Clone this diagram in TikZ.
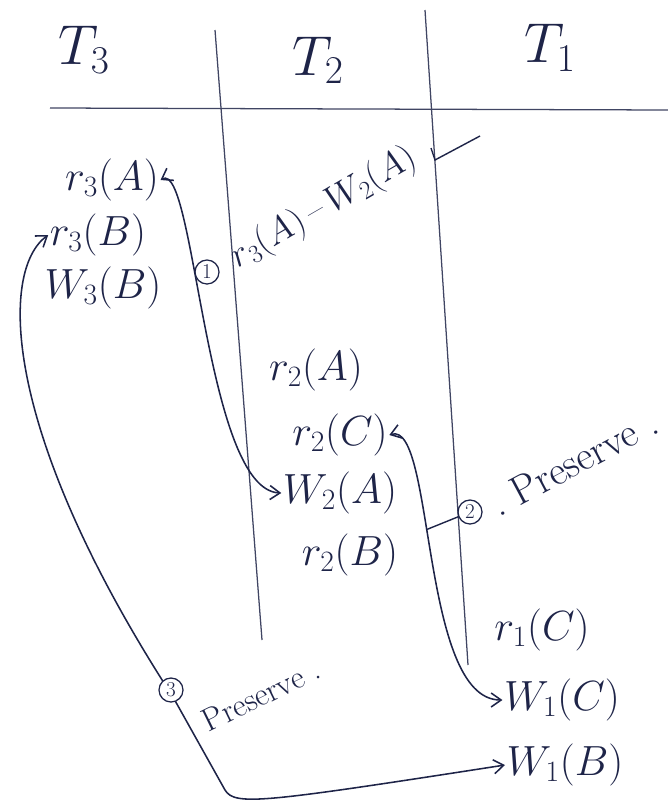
\RequirePackage{fix-cm}
\documentclass[tikz,border=0pt]{standalone}
\usepackage{amsmath}
\usepackage{xcolor}
\usetikzlibrary{arrows.meta}
\definecolor{ink}{RGB}{30, 36, 72}

\begin{document}
\begin{tikzpicture}[
  x=0.025cm, y=-0.025cm,
  every node/.style={text=ink, font=\fontsize{30}{34}\selectfont},
  head/.style={font=\fontsize{40}{46}\selectfont},
  op/.style={inner sep=1pt},
  note/.style={font=\fontsize{22}{26}\selectfont, inner sep=1pt},
  num/.style={draw=ink, circle, line width=0.9pt, inner sep=0pt, minimum size=0.6cm, font=\fontsize{15}{17}\selectfont},
  rule/.style={draw=ink!85, line width=0.9pt},
  arrow/.style={{Straight Barb[length=2.5mm, width=3.5mm]}-{Straight Barb[length=2.5mm, width=3.5mm]}, line width=1.1pt, draw=ink}
]
\useasboundingbox (0,0) rectangle (668,809);

  % Kopfzeile mit den Transaktionen
  \node[head] (t3) at (84,50) {$T_3$};
  \node[head] (t2) at (318,60) {$T_2$};
  \node[head] (t1) at (550,48) {$T_1$};

  \coordinate (hl) at (50,108);
  \coordinate (hr) at (668,110);
  \coordinate (l1top) at (215,30);
  \coordinate (l1bot) at (262,640);
  \coordinate (l2top) at (425,10);
  \coordinate (l2bot) at (468,665);
  \draw[rule] (hl) -- (hr);
  \draw[rule] (l1top) -- (l1bot);
  \draw[rule] (l2top) -- (l2bot);

  % Operationen
  \node[op] (r3a) at (112,180) {$r_3(A)$};
  \node[op] (r3b) at (98,235) {$r_3(B)$};
  \node[op] (w3b) at (103,288) {$W_3(B)$};

  \node[op] (r2a) at (316,370) {$r_2(A)$};
  \node[op] (r2c) at (340,435) {$r_2(C)$};
  \node[op] (w2a) at (340,493) {$W_2(A)$};
  \node[op] (r2b) at (350,555) {$r_2(B)$};

  \node[op] (r1c) at (542,630) {$r_1(C)$};
  \node[op] (w1c) at (562,700) {$W_1(C)$};
  \node[op] (w1b) at (565,765) {$W_1(B)$};

  % Konflikte
  \draw[arrow] (r3a.east) .. controls (195,160) and (205,490) .. (w2a.west);
  \node[num] (n1) at (207,272) {1};
  \node[note, font=\fontsize{26}{30}\selectfont, rotate=30] (c1) at (324,208) {$r_3(A)$\,--\,$W_2(A)$};
  \coordinate (tk1) at (480,136);
  \coordinate (tk2) at (435,160);
  \coordinate (tk3) at (431,148);
  \draw[line width=1pt, draw=ink] (tk1) -- (tk2) -- (tk3);

  \draw[arrow] (r2c.east) .. controls (435,420) and (420,700) .. coordinate[pos=0.42] (tie2) (w1c.west);
  \node[num] (n2) at (470,512) {2};
  \draw[line width=1pt, draw=ink] (tie2) -- (n2);
  \node[note, font=\fontsize{29}{33}\selectfont, rotate=28] (p2) at (574,462) {.\ Preserve\ .};

  \draw[arrow] (r3b.west) .. controls (0,270) and (0,430) .. (173,697) -- (225,790) .. controls (235,806) and (260,803) .. (w1b.west);
  \node[num, fill=white] (n3) at (171,690) {3};
  \node[note, font=\fontsize{23}{26}\selectfont, rotate=26] (p3) at (261,695) {Preserve\ .};

\end{tikzpicture}
\end{document}
